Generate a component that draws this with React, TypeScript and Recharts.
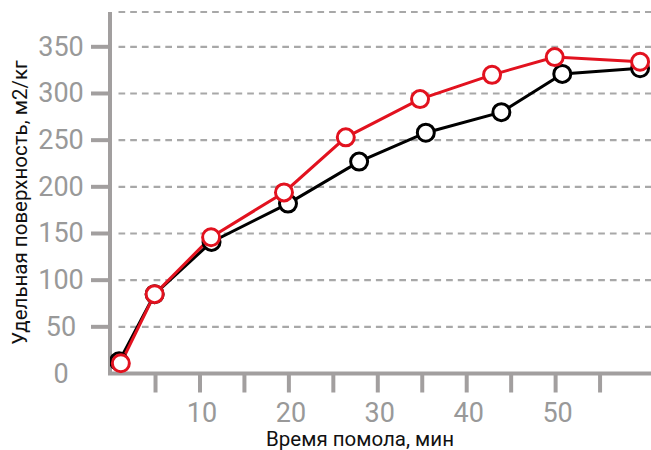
import React from 'react';
import { LineChart, Line, XAxis, YAxis, CartesianGrid } from 'recharts';

// Data
const xBlack = [0.9, 4.9, 11.3, 19.9, 27.9, 35.4, 43.9, 50.75, 59.5];
const yBlack = [13, 85, 141, 182, 227, 258, 280, 321, 327];
const xRed = [1.1, 4.9, 11.25, 19.45, 26.4, 34.75, 42.85, 49.9, 59.5];
const yRed = [11, 85, 146, 194, 253, 294, 320, 339, 334];
const xTicks = [5, 10, 15, 20, 25, 30, 35, 40, 45, 50, 55];
const yTicks = [0, 50, 100, 150, 200, 250, 300, 350];
const xTitle = 'Время помола, мин';
const yTitle = 'Удельная поверхность, м2/кг';

const blackData = xBlack.map((x, i) => ({ x, y: yBlack[i] }));
const redData = xRed.map((x, i) => ({ x, y: yRed[i] }));

const CHART_W = 700;
const CHART_H = 450;
const AXIS_LEFT = 110;
const TOP = 12;
const PLOT_BOTTOM = 373.5;
const AXIS_COLOR = '#a29f9f';
const TICK_TEXT = '#999999';
const FONT = 'Roboto, "Noto Sans", sans-serif';

const YTick = (props: any) => {
  const { y, payload } = props;
  return (
    <g>
      {payload.value !== 0 && (
        <line x1={AXIS_LEFT - 19} x2={AXIS_LEFT} y1={y} y2={y} stroke={AXIS_COLOR} strokeWidth={4} />
      )}
      <text x={61} y={y + 9} textAnchor="middle" fill={TICK_TEXT} fontSize={27} fontFamily={FONT}>
        {payload.value}
      </text>
    </g>
  );
};

const XTick = (props: any) => {
  const { x, payload } = props;
  if (payload.value % 10 !== 0) return <g />;
  return (
    <text x={x + 2} y={PLOT_BOTTOM + 48} textAnchor="middle" fill={TICK_TEXT} fontSize={27} fontFamily={FONT}>
      {payload.value}
    </text>
  );
};

const GridLine = (p: any) => (
  <line
    key={p.key}
    x1={p.x1 + 8.5}
    y1={p.y1}
    x2={p.x2}
    y2={p.y2}
    stroke="#a8a8a8"
    strokeWidth={2.2}
    strokeDasharray="6.7 5"
  />
);

export default function App() {
  return (
    <div style={{ position: 'absolute', left: 0, top: 0, width: 651, height: 450, overflow: 'hidden', background: '#fff' }}>
      <LineChart
        width={CHART_W}
        height={CHART_H}
        margin={{ top: TOP, right: 0, bottom: 0, left: 0 }}
      >
        <CartesianGrid vertical={false} horizontal={GridLine as any} />
        <XAxis
          type="number"
          dataKey="x"
          domain={[-0.12, 66.24]}
          ticks={xTicks}
          interval={0}
          height={CHART_H - PLOT_BOTTOM}
          tickSize={19}
          tickLine={{ stroke: AXIS_COLOR, strokeWidth: 4 }}
          axisLine={{ stroke: AXIS_COLOR, strokeWidth: 4, strokeLinecap: 'square' }}
          tick={<XTick />}
          allowDataOverflow
        />
        <YAxis
          type="number"
          dataKey="y"
          domain={[0, 387.3]}
          ticks={yTicks}
          interval={0}
          width={AXIS_LEFT}
          tickLine={false}
          axisLine={{ stroke: AXIS_COLOR, strokeWidth: 4 }}
          tick={<YTick />}
          allowDataOverflow
        />
        <Line
          data={blackData}
          dataKey="y"
          stroke="#000000"
          strokeWidth={3}
          dot={{ r: 8.5, fill: '#ffffff', stroke: '#000000', strokeWidth: 3 }}
          isAnimationActive={false}
        />
        <Line
          data={redData}
          dataKey="y"
          stroke="#e2121f"
          strokeWidth={3}
          dot={{ r: 8.5, fill: '#ffffff', stroke: '#e2121f', strokeWidth: 3 }}
          isAnimationActive={false}
        />
        <text x={360} y={446} textAnchor="middle" fill="#111111" fontSize={20.5} fontFamily={FONT}>
          {xTitle}
        </text>
        <text
          transform="rotate(-90)"
          x={-202.5}
          y={26.5}
          textAnchor="middle"
          fill="#111111"
          fontSize={20.5}
          fontFamily={FONT}
        >
          {yTitle}
        </text>
      </LineChart>
    </div>
  );
}
